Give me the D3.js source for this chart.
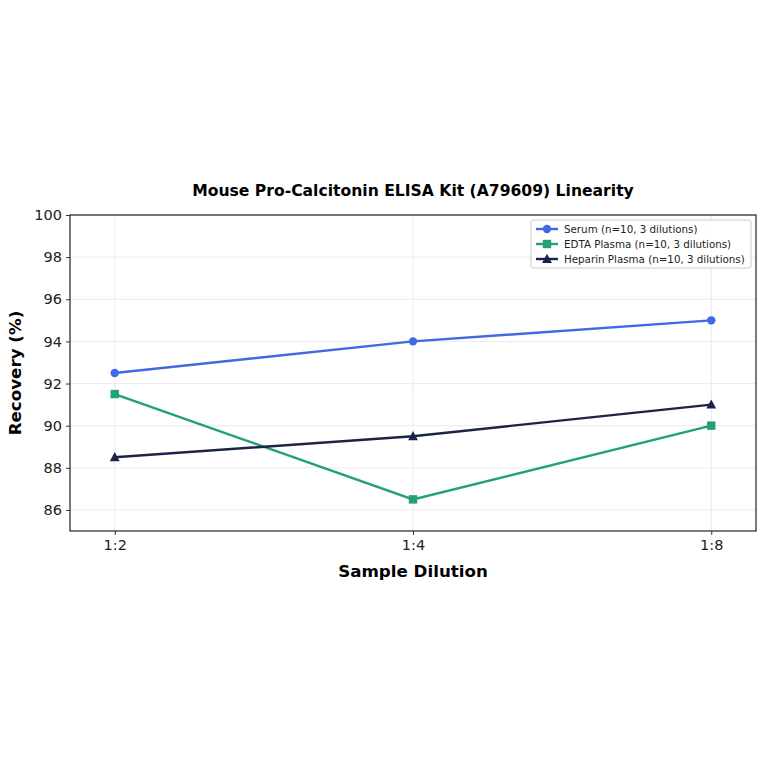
<!DOCTYPE html>
<html><head><meta charset="utf-8">
<script src="https://cdn.jsdelivr.net/npm/d3@7"></script>
<style>body{margin:0;background:#fff}svg{display:block;font-family:"DejaVu Sans",sans-serif}</style>
</head><body><svg id="c" width="764" height="764"></svg>
<script>
const categories = ["1:2","1:4","1:8"];
const serum = [92.5, 94.0, 95.0];
const edta = [91.5, 86.5, 90.0];
const heparin = [88.5, 89.5, 91.0];
const seriesNames = ["Serum (n=10, 3 dilutions)","EDTA Plasma (n=10, 3 dilutions)","Heparin Plasma (n=10, 3 dilutions)"];
const yTicks = [86,88,90,92,94,96,98,100];

const series = [
  {name: seriesNames[0], values: serum, color: "#4169E1", marker: "circle"},
  {name: seriesNames[1], values: edta, color: "#23A078", marker: "square"},
  {name: seriesNames[2], values: heparin, color: "#1B2447", marker: "triangle"}
];

const svg = d3.select("#c");
const L = 70, R = 756, T = 215, B = 531;
const x = d3.scaleLinear().domain([-0.15, 2.15]).range([L, R]);
const y = d3.scaleLinear().domain([85, 100]).range([B, T]);

// grid
const g = svg.append("g");
g.selectAll(".gy").data(yTicks).enter().append("line")
  .attr("x1", L).attr("x2", R).attr("y1", d => y(d)).attr("y2", d => y(d))
  .attr("stroke", "#e6e6e6").attr("stroke-width", 0.8);
g.selectAll(".gx").data(categories).enter().append("line")
  .attr("y1", T).attr("y2", B).attr("x1", (d,i) => x(i)).attr("x2", (d,i) => x(i))
  .attr("stroke", "#e6e6e6").attr("stroke-width", 0.8);

// axes
const yAxis = d3.axisLeft(y).tickValues(yTicks).tickSize(4).tickPadding(4);
const ya = svg.append("g").attr("transform", `translate(${L},0)`).call(yAxis);
const xAxis = d3.axisBottom(x).tickValues([0,1,2]).tickFormat(i => categories[i]).tickSize(4).tickPadding(5);
const xa = svg.append("g").attr("transform", `translate(0,${B})`).call(xAxis);
[ya, xa].forEach(a => {
  a.select(".domain").remove();
  a.selectAll("text").attr("font-size", 14.5).attr("fill", "#222").attr("font-family", "DejaVu Sans");
  a.selectAll("line").attr("stroke", "#333");
});
svg.append("rect").attr("x", L).attr("y", T).attr("width", R - L).attr("height", B - T)
  .attr("fill", "none").attr("stroke", "#222").attr("stroke-width", 1.2);

// lines
const line = d3.line().x((d,i) => x(i)).y(d => y(d));
function drawMarker(sel, type, color, cx, cy) {
  if (type === "circle") sel.append("circle").attr("cx", cx).attr("cy", cy).attr("r", 4.2).attr("fill", color);
  else if (type === "square") sel.append("rect").attr("x", cx - 4.2).attr("y", cy - 4.2).attr("width", 8.4).attr("height", 8.4).attr("fill", color);
  else sel.append("path").attr("d", `M${cx},${cy-5.2}L${cx+4.9},${cy+4}L${cx-4.9},${cy+4}Z`).attr("fill", color);
}
series.forEach(s => {
  svg.append("path").datum(s.values).attr("d", line).attr("fill", "none")
    .attr("stroke", s.color).attr("stroke-width", 2.4);
  const mg = svg.append("g");
  s.values.forEach((v, i) => drawMarker(mg, s.marker, s.color, x(i), y(v)));
});

// title & labels
svg.append("text").attr("x", (L + R) / 2).attr("y", 196).attr("text-anchor", "middle")
  .attr("font-size", 15.6).attr("font-weight", "bold").attr("fill", "#000")
  .text("Mouse Pro-Calcitonin ELISA Kit (A79609) Linearity");
svg.append("text").attr("x", (L + R) / 2).attr("y", 577).attr("text-anchor", "middle")
  .attr("font-size", 16.7).attr("font-weight", "bold").attr("fill", "#000").text("Sample Dilution");
svg.append("text").attr("transform", `translate(21,${(T + B) / 2}) rotate(-90)`).attr("text-anchor", "middle")
  .attr("font-size", 16.7).attr("font-weight", "bold").attr("fill", "#000").text("Recovery (%)");

// legend
const lg = svg.append("g");
const lx = 531, ly = 220, lw = 220, lh = 48;
lg.append("rect").attr("x", lx).attr("y", ly).attr("width", lw).attr("height", lh).attr("rx", 2)
  .attr("fill", "#fff").attr("fill-opacity", 0.8).attr("stroke", "#ccc");
series.forEach((s, i) => {
  const yy = ly + 9 + i * 15;
  lg.append("line").attr("x1", lx + 5).attr("x2", lx + 27).attr("y1", yy).attr("y2", yy)
    .attr("stroke", s.color).attr("stroke-width", 2.4);
  drawMarker(lg, s.marker, s.color, lx + 16, yy);
  lg.append("text").attr("x", lx + 33).attr("y", yy + 4).attr("font-size", 10.3).attr("fill", "#222").text(s.name);
});
</script></body></html>
